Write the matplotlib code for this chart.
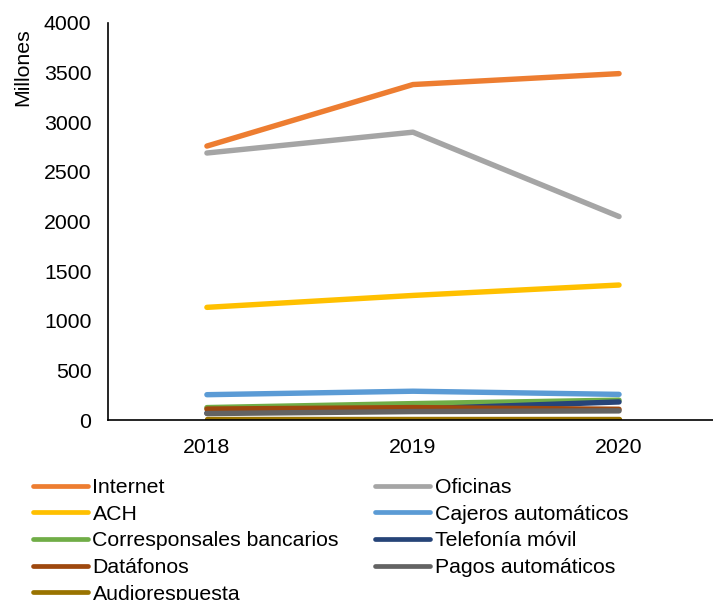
import numpy as np
import matplotlib.pyplot as plt

plt.rcParams['font.family'] = ['Liberation Sans', 'DejaVu Sans']

# Transacciones por canal (millones)
years = ['2018', '2019', '2020']
internet = [2760, 3380, 3490]
oficinas = [2690, 2900, 2050]
ach = [1135, 1255, 1360]
cajeros = [255, 290, 258]
corresponsales = [125, 165, 200]
telefonia = [70, 110, 182]
datafonos = [110, 125, 108]
pagos_auto = [65, 85, 92]
audiorespuesta = [8, 8, 8]

series = [
    ('Internet', internet, '#ED7D31'),
    ('Oficinas', oficinas, '#A5A5A5'),
    ('ACH', ach, '#FFC000'),
    ('Cajeros automáticos', cajeros, '#5B9BD5'),
    ('Corresponsales bancarios', corresponsales, '#70AD47'),
    ('Telefonía móvil', telefonia, '#264478'),
    ('Datáfonos', datafonos, '#9E480E'),
    ('Pagos automáticos', pagos_auto, '#636363'),
    ('Audiorespuesta', audiorespuesta, '#997300'),
]

FS = 15.3

fig = plt.figure(figsize=(7.13, 6.0), dpi=100)
ax = fig.add_axes([108 / 713, 1 - 420 / 600, 1 - 108 / 713, (420 - 23) / 600])

x = np.arange(len(years))
lines = {}
for name, vals, color in series:
    ln, = ax.plot(x, vals, color=color, linewidth=3.9, solid_capstyle='round', label=name)
    lines[name] = ln

ax.set_xlim(-0.48, 2.456)
ax.set_ylim(0, 4000)
ax.set_yticks(np.arange(0, 4001, 500))
ax.set_xticks(x)
ax.set_xticklabels(years)
ax.tick_params(length=0, labelsize=FS)
ax.tick_params(axis='x', pad=13)
ax.tick_params(axis='y', pad=12)
for s in ['top', 'right']:
    ax.spines[s].set_visible(False)
for s in ['left', 'bottom']:
    ax.spines[s].set_linewidth(1.2)

ax.set_ylabel('Millones', fontsize=FS)
ax.yaxis.set_label_coords(-0.125, 0.888)

# legend in row order, matplotlib fills column-wise
order = ['Internet', 'ACH', 'Corresponsales bancarios', 'Datáfonos', 'Audiorespuesta',
         'Oficinas', 'Cajeros automáticos', 'Telefonía móvil', 'Pagos automáticos']
leg = fig.legend([lines[n] for n in order], order, ncol=2, loc='upper left',
                 bbox_to_anchor=(33 / 713, 1 - 478 / 600), frameon=False, fontsize=FS,
                 handlelength=2.6, handletextpad=0.2, columnspacing=1.7,
                 labelspacing=0.36, borderaxespad=0, borderpad=0)
for h in leg.legend_handles:
    h.set_linewidth(3.4)

fig.savefig('out.png', dpi=100)
